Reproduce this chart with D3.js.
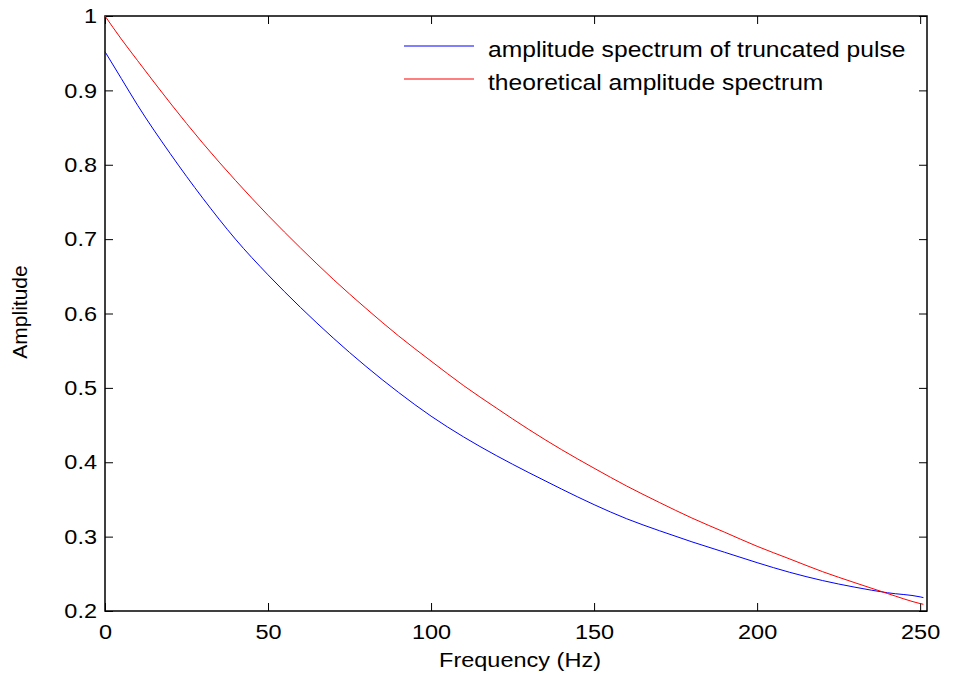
<!DOCTYPE html>
<html>
<head>
<meta charset="utf-8">
<script src="https://cdn.jsdelivr.net/npm/d3@7"></script>
<style>
  body { margin: 0; background: #fff; }
  svg { display: block; font-family: "Liberation Sans", Arial, sans-serif; }
</style>
</head>
<body>
<svg id="chart"></svg>
<script>
let width = 953;
let height = 676;
let stretch = 1.12; // picture text looks a bit wide

// frequency (Hz)
const freq = [0, 5, 10, 20, 30, 40, 50, 60, 70, 80, 90, 100, 110, 120, 130, 140,
  150, 160, 170, 180, 190, 200, 210, 220, 230, 240, 250, 251];

// amplitude spectrum of truncated pulse (blue)
const truncated = [0.952, 0.916, 0.880, 0.815, 0.755, 0.700, 0.652, 0.608, 0.567,
  0.529, 0.494, 0.462, 0.434, 0.409, 0.386, 0.364, 0.343, 0.324, 0.308, 0.293,
  0.279, 0.265, 0.252, 0.241, 0.232, 0.2245, 0.219, 0.218];

// theoretical amplitude spectrum (red)
const theoretical = [1.000, 0.969, 0.940, 0.883, 0.829, 0.779, 0.732, 0.688, 0.646,
  0.607, 0.570, 0.536, 0.503, 0.473, 0.444, 0.417, 0.392, 0.368, 0.346, 0.325,
  0.306, 0.287, 0.270, 0.253, 0.238, 0.2235, 0.210, 0.209];

const xTicks = [0, 50, 100, 150, 200, 250];
const yTicks = [0.2, 0.3, 0.4, 0.5, 0.6, 0.7, 0.8, 0.9, 1];

const seriesNames = ["amplitude spectrum of truncated pulse", "theoretical amplitude spectrum"];
const seriesColors = ["#0000ff", "#ff0000"];

let plot = { left: 105, right: 927, top: 16, bottom: 611 };

let svg = d3.select("svg#chart").attr("width", width).attr("height", height);

let xScale = d3.scaleLinear().domain([0, 252.1]).range([plot.left, plot.right]);
let yScale = d3.scaleLinear().domain([0.2, 1]).range([plot.bottom, plot.top]);

// axes (ticks point inward on all four sides)
function styleAxis(g) {
  g.select(".domain").remove();
  g.selectAll("line").attr("stroke", "#000").attr("stroke-width", 1);
  g.selectAll("text").attr("fill", "#000").style("font-size", "21px");
}

svg.append("g")
  .attr("transform", `translate(0, ${plot.bottom})`)
  .call(d3.axisBottom(xScale).tickValues(xTicks).tickFormat(d3.format("d"))
    .tickSize(-8).tickPadding(13))
  .call(styleAxis)
  .call((g) => g.selectAll("text").attr("transform", `scale(${stretch},1)`));

svg.append("g")
  .attr("transform", `translate(0, ${plot.top})`)
  .call(d3.axisTop(xScale).tickValues(xTicks).tickFormat("").tickSize(-8))
  .call(styleAxis);

svg.append("g")
  .attr("transform", `translate(${plot.left}, 0)`)
  .call(d3.axisLeft(yScale).tickValues(yTicks).tickFormat((d) => d3.format("")(+d.toFixed(1)))
    .tickSize(-8).tickPadding(8 / stretch))
  .call(styleAxis)
  .call((g) => g.selectAll("text").attr("transform", `scale(${stretch},1)`));

svg.append("g")
  .attr("transform", `translate(${plot.right}, 0)`)
  .call(d3.axisRight(yScale).tickValues(yTicks).tickFormat("").tickSize(-8))
  .call(styleAxis);

svg.append("rect")
  .attr("x", plot.left)
  .attr("y", plot.top)
  .attr("width", plot.right - plot.left)
  .attr("height", plot.bottom - plot.top)
  .attr("fill", "none")
  .attr("stroke", "#000")
  .attr("stroke-width", 1.5);

// lines
let line = d3.line()
  .x((d) => xScale(d[0]))
  .y((d) => yScale(d[1]))
  .curve(d3.curveMonotoneX);

[truncated, theoretical].forEach((vals, i) => {
  svg.append("path")
    .datum(freq.map((f, j) => [f, vals[j]]))
    .attr("d", line)
    .attr("fill", "none")
    .attr("stroke", seriesColors[i])
    .attr("stroke-width", 1);
});

// axis labels
svg.append("g")
  .attr("transform", `translate(520, 667) scale(${stretch},1)`)
  .append("text")
  .attr("text-anchor", "middle")
  .style("font-size", "21px")
  .text("Frequency (Hz)");

svg.append("text")
  .attr("transform", "translate(27, 312) rotate(-90)")
  .attr("text-anchor", "middle")
  .style("font-size", "21px")
  .text("Amplitude");

// legend (no box)
let legend = svg.append("g");
seriesNames.forEach((name, i) => {
  let y = 46 + i * 33;
  legend.append("line")
    .attr("x1", 404).attr("x2", 474)
    .attr("y1", y).attr("y2", y)
    .attr("stroke", seriesColors[i])
    .attr("stroke-width", 1.1);
  legend.append("g")
    .attr("transform", `translate(488, ${y + 11}) scale(${stretch},1)`)
    .append("text")
    .style("font-size", "22px")
    .text(name);
});
</script>
</body>
</html>
